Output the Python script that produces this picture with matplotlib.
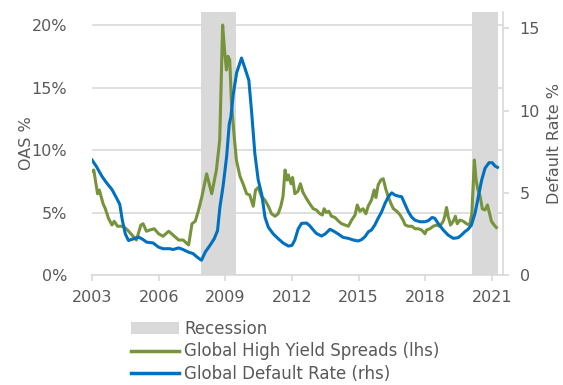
import matplotlib
matplotlib.use("Agg")
import matplotlib.pyplot as plt
from matplotlib.patches import Patch
from matplotlib.lines import Line2D

# 高收益利差（左轴，%）
hy_years = [2003.00, 2003.08, 2003.25, 2003.33, 2003.50, 2003.60, 2003.75, 2003.90, 2004.00, 2004.15,
            2004.40, 2004.60, 2004.80, 2005.00, 2005.20, 2005.30, 2005.45, 2005.60, 2005.80, 2006.00,
            2006.20, 2006.45, 2006.65, 2006.90, 2007.10, 2007.35, 2007.50, 2007.65, 2007.80, 2007.95,
            2008.16, 2008.39, 2008.60, 2008.75, 2008.88, 2008.98, 2009.05, 2009.12, 2009.20, 2009.28,
            2009.40, 2009.50, 2009.66, 2009.80, 2009.96, 2010.10, 2010.26, 2010.36, 2010.48, 2010.63,
            2010.78, 2010.94, 2011.08, 2011.24, 2011.38, 2011.50, 2011.60, 2011.69, 2011.78, 2011.84,
            2011.96, 2012.03, 2012.13, 2012.27, 2012.38, 2012.50, 2012.66, 2012.80, 2012.96, 2013.10,
            2013.26, 2013.37, 2013.45, 2013.55, 2013.66, 2013.78, 2013.94, 2014.10, 2014.24, 2014.39,
            2014.54, 2014.69, 2014.84, 2014.94, 2015.06, 2015.20, 2015.33, 2015.43, 2015.58, 2015.70,
            2015.78, 2015.88, 2016.00, 2016.11, 2016.22, 2016.33, 2016.46, 2016.57, 2016.72, 2016.87,
            2017.00, 2017.10, 2017.24, 2017.40, 2017.55, 2017.69, 2017.84, 2017.99, 2018.06, 2018.21,
            2018.36, 2018.51, 2018.66, 2018.81, 2018.88, 2018.96, 2019.03, 2019.14, 2019.26, 2019.36,
            2019.44, 2019.56, 2019.71, 2019.86, 2020.00, 2020.10, 2020.21, 2020.29, 2020.36, 2020.47,
            2020.57, 2020.69, 2020.80, 2020.90, 2020.98, 2021.10, 2021.20]
hy_spread = [8.3, 8.4, 6.5, 6.8, 5.7, 5.3, 4.5, 4.0, 4.3, 3.9,
             3.9, 3.6, 3.2, 2.8, 4.0, 4.1, 3.5, 3.6, 3.7, 3.3,
             3.1, 3.5, 3.2, 2.8, 2.8, 2.4, 4.1, 4.3, 5.2, 6.3,
             8.1, 6.5, 8.4, 10.8, 20.0, 17.7, 16.4, 17.5, 17.2, 13.7,
             11.1, 9.2, 7.9, 7.3, 6.5, 6.4, 5.5, 6.8, 7.0, 6.3,
             6.0, 5.5, 4.9, 4.7, 4.9, 5.5, 6.3, 8.4, 7.6, 8.0,
             7.3, 7.8, 6.5, 6.7, 7.3, 6.6, 6.1, 5.7, 5.3, 5.2,
             4.9, 4.8, 5.3, 5.0, 5.1, 4.7, 4.6, 4.3, 4.1, 4.0,
             3.9, 4.4, 4.8, 5.6, 5.1, 5.3, 4.9, 5.5, 6.0, 6.8,
             6.2, 7.2, 7.6, 7.7, 6.9, 6.3, 5.7, 5.3, 5.1, 4.8,
             4.4, 4.0, 3.9, 3.9, 3.7, 3.7, 3.6, 3.3, 3.6, 3.7,
             3.9, 4.0, 3.9, 4.3, 4.7, 5.4, 4.7, 4.0, 4.3, 4.7,
             4.1, 4.4, 4.3, 4.1, 4.0, 4.9, 9.2, 7.6, 6.9, 6.3,
             5.3, 5.2, 5.6, 4.9, 4.3, 4.0, 3.8]

# 违约率（右轴，%）
dr_years = [2003.00, 2003.20, 2003.45, 2003.66, 2003.90, 2004.10, 2004.25, 2004.37, 2004.50, 2004.64,
            2004.87, 2005.10, 2005.25, 2005.46, 2005.75, 2005.99, 2006.20, 2006.50, 2006.65, 2006.90,
            2007.10, 2007.33, 2007.55, 2007.75, 2007.93, 2008.10, 2008.31, 2008.50, 2008.65, 2008.76,
            2008.90, 2009.06, 2009.18, 2009.25, 2009.36, 2009.51, 2009.73, 2009.88, 2010.06, 2010.18,
            2010.33, 2010.48, 2010.64, 2010.79, 2010.94, 2011.16, 2011.39, 2011.60, 2011.84, 2012.00,
            2012.13, 2012.28, 2012.43, 2012.66, 2012.80, 2012.96, 2013.10, 2013.33, 2013.50, 2013.71,
            2013.86, 2014.08, 2014.30, 2014.54, 2014.76, 2014.98, 2015.13, 2015.29, 2015.44, 2015.58,
            2015.73, 2015.88, 2016.04, 2016.19, 2016.34, 2016.49, 2016.64, 2016.79, 2016.94, 2017.09,
            2017.24, 2017.38, 2017.53, 2017.76, 2017.98, 2018.13, 2018.31, 2018.43, 2018.58, 2018.81,
            2019.03, 2019.26, 2019.48, 2019.63, 2019.78, 2019.93, 2020.08, 2020.24, 2020.39, 2020.54,
            2020.69, 2020.87, 2021.02, 2021.14, 2021.25]
default_rate = [7.0, 6.6, 6.0, 5.6, 5.2, 4.7, 4.3, 3.3, 2.5, 2.1,
                2.2, 2.3, 2.2, 2.0, 1.95, 1.7, 1.6, 1.6, 1.55, 1.65,
                1.55, 1.4, 1.3, 1.07, 0.9, 1.4, 1.8, 2.2, 2.7, 4.15,
                5.4, 7.2, 9.2, 9.6, 11.0, 12.3, 13.2, 12.6, 11.85, 10.0,
                7.4, 5.8, 4.9, 3.5, 2.9, 2.5, 2.2, 1.95, 1.76, 1.8,
                2.13, 2.8, 3.14, 3.16, 3.0, 2.74, 2.53, 2.37, 2.5, 2.78,
                2.68, 2.5, 2.29, 2.23, 2.13, 2.07, 2.15, 2.33, 2.63, 2.74,
                3.04, 3.45, 3.85, 4.36, 4.76, 5.0, 4.86, 4.8, 4.76, 4.3,
                3.85, 3.54, 3.34, 3.24, 3.24, 3.3, 3.5, 3.45, 3.14, 2.74,
                2.43, 2.23, 2.27, 2.43, 2.63, 2.78, 3.04, 3.75, 4.76, 5.77,
                6.49, 6.83, 6.83, 6.63, 6.55]

# 衰退区间
recession_start = [2007.92, 2020.10]
recession_end = [2009.50, 2021.26]

year_ticks = [2003, 2006, 2009, 2012, 2015, 2018, 2021]
left_ticks = [0, 5, 10, 15, 20]
right_ticks = [0, 5, 10, 15]

green = "#77933C"
blue = "#0070C0"
shade = "#D9D9D9"
grey_text = "#595959"
grey_line = "#D9D9D9"

plt.rcParams["font.family"] = ["DejaVu Sans"]
plt.rcParams["font.size"] = 11.5

fig = plt.figure(figsize=(5.63, 3.85), dpi=100)
ax = fig.add_axes([0.1634, 0.2857, 0.73, 0.6831])
ax2 = ax.twinx()

ax.set_axisbelow(True)
for s, e in zip(recession_start, recession_end):
    ax.axvspan(s, e, color=shade, lw=0, zorder=1)

ax.plot(hy_years, hy_spread, color=green, lw=2.2, zorder=3, solid_joinstyle="round")
ax2.plot(dr_years, default_rate, color=blue, lw=2.2, zorder=3, solid_joinstyle="round")

ax.set_xlim(2003, 2021.5)
ax.set_ylim(0, 21.04)
ax2.set_ylim(0, 16.0)

ax.set_xticks(year_ticks)
ax.set_xticklabels([str(y) for y in year_ticks])
ax.set_yticks(left_ticks)
ax.set_yticklabels([f"{v}%" for v in left_ticks])
ax2.set_yticks(right_ticks)
ax2.set_yticklabels([str(v) for v in right_ticks])

ax.yaxis.grid(True, color=grey_line, lw=1.2)
ax.xaxis.grid(False)

for a in (ax, ax2):
    for sp in a.spines.values():
        sp.set_visible(False)
ax.spines["bottom"].set_visible(True)
ax.spines["bottom"].set_color(grey_line)
ax.spines["bottom"].set_linewidth(1.2)
ax2.spines["right"].set_visible(True)
ax2.spines["right"].set_color(grey_line)
ax2.spines["right"].set_linewidth(1.2)

ax.tick_params(axis="x", colors=grey_text, color=grey_line, length=4, width=1.2, pad=7, labelsize=11.5)
ax.tick_params(axis="y", colors=grey_text, length=0, pad=18, labelsize=11.5)
ax2.tick_params(axis="y", colors=grey_text, color=grey_line, length=4, width=1.2, pad=8, labelsize=11.5)

ax.set_ylabel("OAS %", color=grey_text, fontsize=11.5, labelpad=-2)
ax2.set_ylabel("Default Rate %", color=grey_text, fontsize=11.5, labelpad=5)

handles = [
    Patch(facecolor=shade, edgecolor="none"),
    Line2D([], [], color=green, lw=2.5),
    Line2D([], [], color=blue, lw=2.5),
]
labels = ["Recession", "Global High Yield Spreads (lhs)", "Global Default Rate (rhs)"]
fig.legend(handles, labels, loc="upper left", bbox_to_anchor=(131 / 563, 1 - 320 / 385),
           frameon=False, fontsize=12, handlelength=2.9, handleheight=0.75, handletextpad=0.3,
           labelspacing=0.27, borderpad=0, borderaxespad=0, labelcolor=grey_text)

fig.savefig("out.png", dpi=100)
